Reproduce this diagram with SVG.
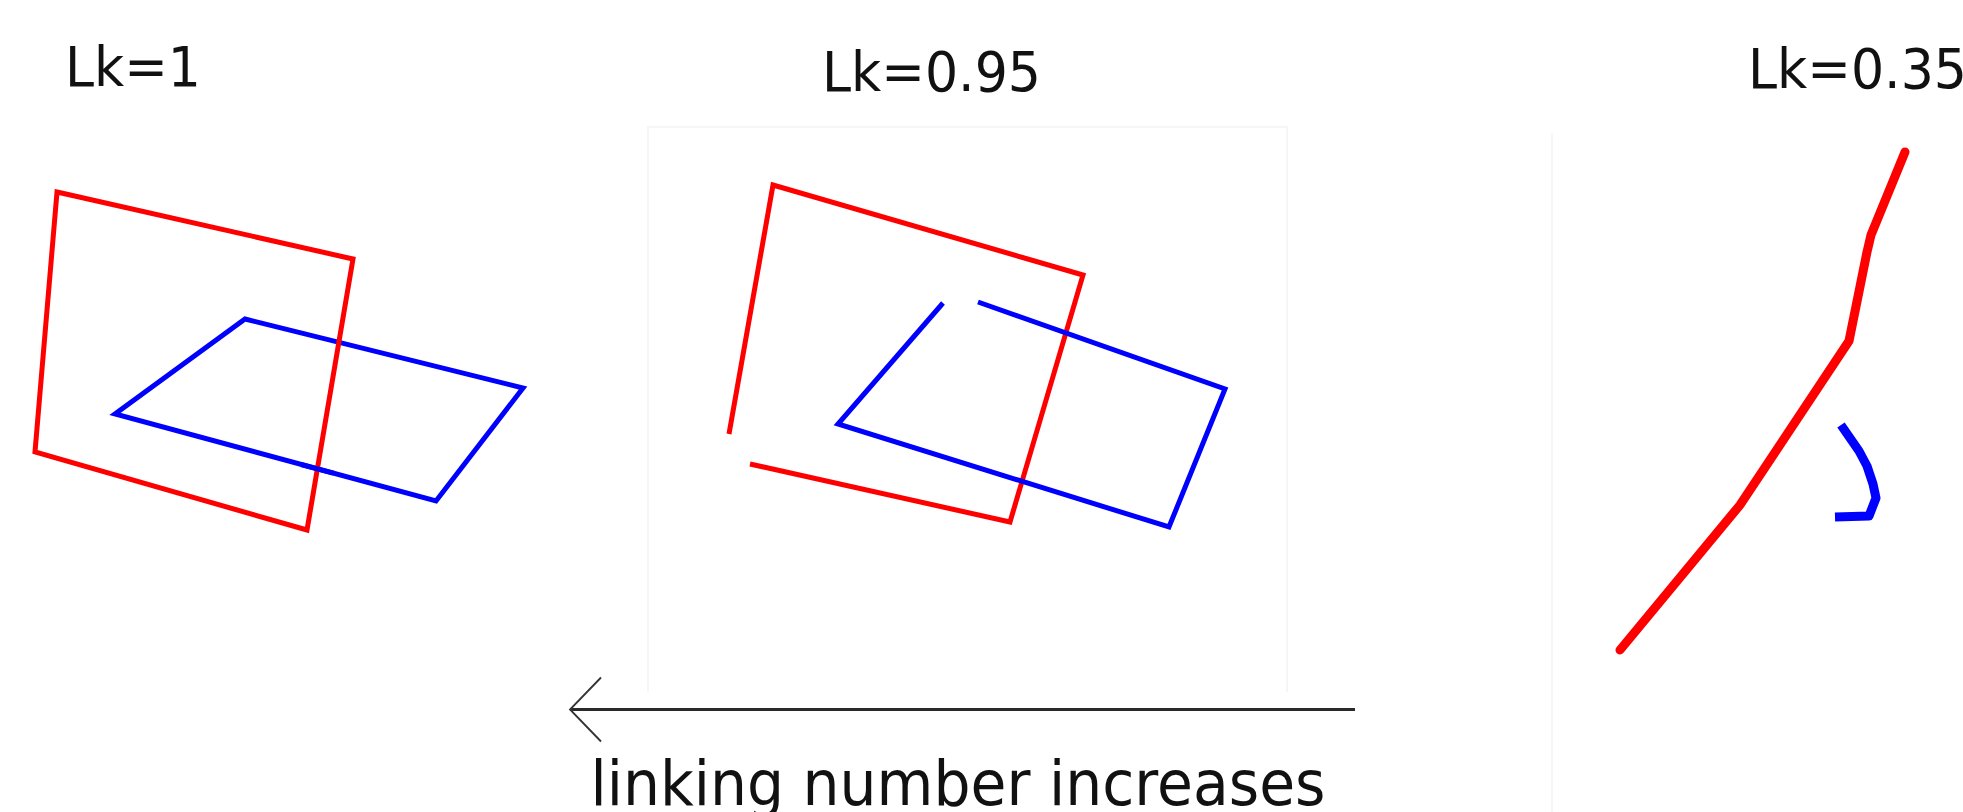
<svg xmlns="http://www.w3.org/2000/svg" width="1963" height="812" viewBox="0 0 1963 812">
  <style>
    .lbl { font-family: "DejaVu Sans", "Liberation Sans", sans-serif; fill: #111; }
    .red { fill: none; stroke: #ff0000; stroke-width: 5; stroke-linejoin: miter; }
    .blue { fill: none; stroke: #0000ff; stroke-width: 5; stroke-linejoin: miter; }
    .thickred { fill: none; stroke: #ff0000; stroke-width: 9; stroke-linecap: round; stroke-linejoin: round; }
    .thickblue { fill: none; stroke: #0000ff; stroke-width: 9; stroke-linecap: butt; stroke-linejoin: round; }
    .frame { fill: none; stroke: #f6f6f6; stroke-width: 2; }
  </style>
  <defs>
    <marker id="openhead" markerUnits="userSpaceOnUse" orient="auto" markerWidth="40" markerHeight="70" refX="0" refY="0" viewBox="-35 -35 40 70" overflow="visible">
      <path d="M-31,-32 L0,0 L-31,32" fill="none" stroke="#333" stroke-width="1.8"/>
    </marker>
  </defs>
  <rect width="1963" height="812" fill="#ffffff"/>

  <g id="panel-lk1">
    <text class="lbl" x="65" y="86" font-size="55" textLength="136" lengthAdjust="spacingAndGlyphs">Lk=1</text>
    <polygon class="blue" points="245,319 523,388 436,501 115,414"/>
    <polygon class="red" points="57,192 353,259 307,530 35,452"/>
    <line class="blue" x1="301" y1="464.5" x2="333.3" y2="473.2"/>
  </g>

  <g id="panel-lk095">
    <path class="frame" d="M648,692 V127 H1287 V692"/>
    <text class="lbl" x="822" y="91" font-size="55" textLength="219" lengthAdjust="spacingAndGlyphs">Lk=0.95</text>
    <path class="red" d="M729,434 L773,185 L1083,275 L1010,522 L750,464"/>
    <path class="blue" d="M943,303 L838,424 L1169,527 L1225,389 L978,302"/>
  </g>

  <g id="panel-lk035">
    <path class="frame" d="M1552,133 V812"/>
    <text class="lbl" x="1748" y="88" font-size="55" textLength="219" lengthAdjust="spacingAndGlyphs">Lk=0.35</text>
    <path class="thickred" d="M1905,152 L1871,235 L1867,252 L1849,341 L1843,350 L1740,505 L1620,650"/>
    <path class="thickblue" d="M1841,425 L1859,451 L1867,466 L1873,484 L1876,498 L1869,516 L1835,517"/>
  </g>

  <g id="connectors">
    <line x1="1355" y1="709.5" x2="570" y2="709.5" stroke="#2a2a2a" stroke-width="3" marker-end="url(#openhead)"/>
  </g>

  <g id="caption">
    <text class="lbl" x="590.5" y="805" font-size="62" textLength="735" lengthAdjust="spacingAndGlyphs">linking number increases</text>
  </g>
</svg>
